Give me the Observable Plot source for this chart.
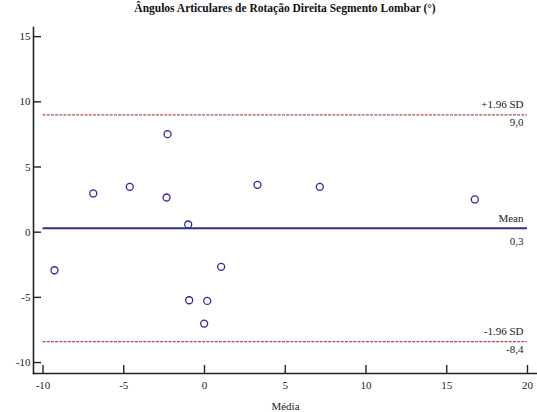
<!DOCTYPE html>
<html>
<head>
<meta charset="utf-8">
<script src="https://cdn.jsdelivr.net/npm/d3@7"></script>
<script src="https://cdn.jsdelivr.net/npm/@observablehq/plot@0.6"></script>
<style>
  body { margin: 0; background: #fff; }
  #wrap { position: relative; width: 537px; height: 412px; }
  #title { position: absolute; left: 33px; width: 504px; top: 2px; text-align: center;
    font: bold 11.5px "Liberation Serif", "DejaVu Serif", serif; color: #111; }
</style>
</head>
<body>
<div id="wrap">
  <div id="title">Ângulos Articulares de Rotação Direita Segmento Lombar (°)</div>
  <div id="chart"></div>
</div>
<script>
// Bland-Altman data: mean of two measures (x) and difference (y)
const means = [-9.29, -6.89, -4.63, -2.29, -2.35, -1.01, 3.28, 1.03, -0.95, 0.17, -0.02, 7.14, 16.74];
const diffs = [-2.92, 2.97, 3.48, 7.52, 2.66, 0.59, 3.63, -2.66, -5.22, -5.27, -7.01, 3.48, 2.51];
const xTicks = [-10, -5, 0, 5, 10, 15, 20];
const yTicks = [-10, -5, 0, 5, 10, 15];
const refValues = [9.0, 0.3, -8.4];
const refNames = ["+1.96 SD", "Mean", "-1.96 SD"];
const refLabels = ["9,0", "0,3", "-8,4"];

const points = means.map((m, i) => ({x: m, y: diffs[i]}));
const refs = refValues.map((v, i) => ({y: v, name: refNames[i], label: refLabels[i], mean: i === 1}));
const xMin = d3.min(xTicks), xMax = d3.max(xTicks);

const font = "'Liberation Serif', 'DejaVu Serif', serif";

const chart = Plot.plot({
  width: 537,
  height: 412,
  marginTop: 27,
  marginBottom: 39,
  marginLeft: 33,
  marginRight: 0,
  style: {fontFamily: font, fontSize: "11px", color: "#222", background: "white"},
  x: {domain: [-10.59, 20.62]},
  y: {domain: [-10.84, 15.7]},
  marks: [
    // axis lines
    Plot.frame({anchor: "left", stroke: "#222", strokeWidth: 1.6}),
    Plot.frame({anchor: "bottom", stroke: "#222", strokeWidth: 1.6}),
    // inward ticks
    Plot.axisX({ticks: xTicks, tickSize: -8, text: null, label: null, stroke: "#222", strokeWidth: 1.4}),
    Plot.axisY({ticks: yTicks, tickSize: -8, text: null, label: null, stroke: "#222", strokeWidth: 1.4}),
    // tick labels
    Plot.axisX({ticks: xTicks, tickSize: 0, tickPadding: 8, tickFormat: d => String(d), label: "Média", labelAnchor: "center", labelArrow: "none", labelOffset: 36, fill: "#222"}),
    Plot.axisY({ticks: yTicks, tickSize: 0, tickPadding: 3, tickFormat: d => String(d), label: null, fill: "#222"}),
    // reference lines
    Plot.ruleY(refs.filter(d => !d.mean), {y: "y", x1: xMin, x2: xMax, stroke: "#b84a4a", strokeWidth: 1.3, strokeDasharray: "3,1.2"}),
    Plot.ruleY(refs.filter(d => d.mean), {y: "y", x1: xMin, x2: xMax, stroke: "#2f2f99", strokeWidth: 2}),
    Plot.text(refs, {x: xMax, y: "y", text: "name", textAnchor: "end", dx: -4, dy: -10, fontSize: 11, fill: "#222"}),
    Plot.text(refs.filter(d => !d.mean), {x: xMax, y: "y", text: "label", textAnchor: "end", dx: -4, dy: 7.5, fontSize: 11, fill: "#222"}),
    Plot.text(refs.filter(d => d.mean), {x: xMax, y: "y", text: "label", textAnchor: "end", dx: -4, dy: 13, fontSize: 11, fill: "#222"}),
    // points
    Plot.dot(points, {x: "x", y: "y", r: 3.5, stroke: "#2a2a9e", strokeWidth: 1.3, fill: "none"})
  ]
});
document.getElementById("chart").appendChild(chart);
</script>
</body>
</html>
